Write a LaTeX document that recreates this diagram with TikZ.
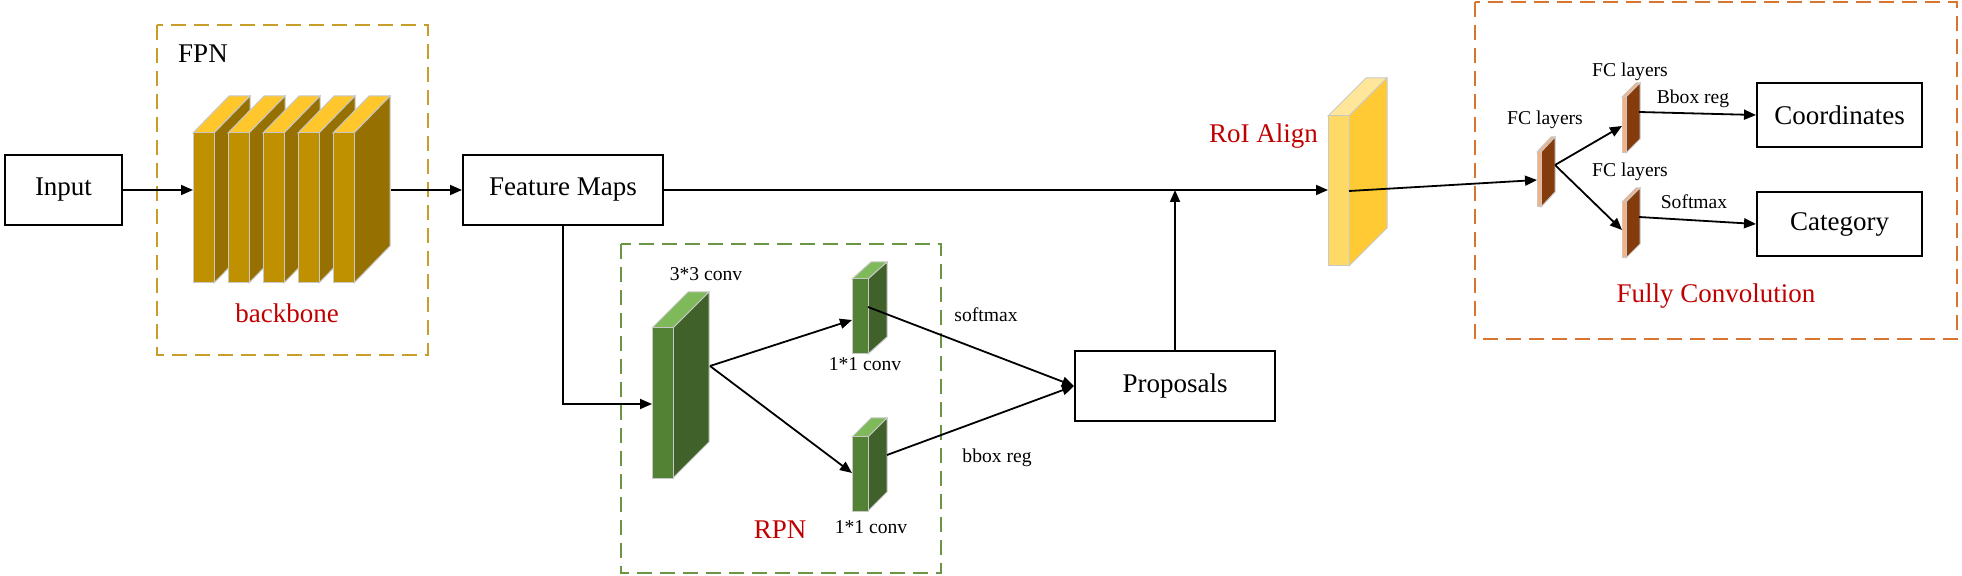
\documentclass[tikz,border=0pt]{standalone}
\usepackage{fontspec}
\setmainfont{Liberation Serif}
\usetikzlibrary{arrows.meta}
\definecolor{fpncol}{RGB}{201,158,40}
\definecolor{rpncol}{RGB}{106,150,70}
\definecolor{fccol}{RGB}{214,118,48}
\definecolor{redtxt}{RGB}{192,0,0}
\definecolor{goldF}{RGB}{191,144,0}
\definecolor{goldS}{RGB}{150,112,0}
\definecolor{goldT}{RGB}{255,199,44}
\definecolor{grnF}{RGB}{84,130,53}
\definecolor{grnS}{RGB}{64,98,42}
\definecolor{grnT}{RGB}{126,185,90}
\definecolor{roiF}{RGB}{255,217,102}
\definecolor{roiS}{RGB}{255,202,51}
\definecolor{roiT}{RGB}{255,230,153}
\definecolor{fcF}{RGB}{244,177,131}
\definecolor{fcS}{RGB}{132,60,12}
\definecolor{fcT}{RGB}{244,177,131}
\definecolor{edgegray}{RGB}{200,200,200}
\newcommand{\slabdraw}[9]{%
  \filldraw[slabedge,fill=#9] (#1,#2) -- ++(#5,-#6) -- ++(#3,0) -- ++(-#5,#6) -- cycle;
  \filldraw[slabedge,fill=#8] (#1+#3,#2) -- ++(#5,-#6) -- ++(0,#4) -- ++(-#5,#6) -- cycle;
  \filldraw[slabedge,fill=#7] (#1,#2) rectangle ++(#3,#4);}
\tikzset{
  box/.style={draw, line width=1pt, fill=white, inner sep=0pt, font=\rmfamily\fontsize{13.5}{16}\selectfont},
  arr/.style={line width=0.9pt, -{Triangle[length=6pt,width=5pt]}},
  slabedge/.style={draw=edgegray, line width=0.5pt},
  grp/.style={line width=1pt, dash pattern=on 7.5pt off 4pt},
  bigl/.style={font=\rmfamily\fontsize{13.5}{16}\selectfont, inner sep=0pt, anchor=base},
  smalll/.style={font=\rmfamily\fontsize{9.8}{12}\selectfont, inner sep=0pt, anchor=base},
}
\begin{document}
\begin{tikzpicture}[x=0.5pt,y=-0.5pt]
\useasboundingbox (0,0) rectangle (1962,576);
% groups
\draw[grp, draw=fpncol] (157,25) rectangle (428,355);
\draw[grp, draw=rpncol] (621,244) rectangle (941,573);
\draw[grp, draw=fccol] (1475,2) rectangle (1957,339);
% boxes
\node[box, minimum width=58.5pt, minimum height=35pt] (input) at (63.5,190) {Input};
\node[box, minimum width=100pt, minimum height=35pt] (fm) at (563,190) {Feature Maps};
\node[box, minimum width=100pt, minimum height=35pt] (prop) at (1175,386) {Proposals};
\node[box, minimum width=82.5pt, minimum height=32pt] (coord) at (1839.5,115) {Coordinates};
\node[box, minimum width=82.5pt, minimum height=32pt] (cat) at (1839.5,224) {Category};
% slabs
\slabdraw{193}{133}{21}{150}{36}{37}{goldF}{goldS}{goldT}
\slabdraw{228}{133}{21}{150}{36}{37}{goldF}{goldS}{goldT}
\slabdraw{263}{133}{21}{150}{36}{37}{goldF}{goldS}{goldT}
\slabdraw{298}{133}{21}{150}{36}{37}{goldF}{goldS}{goldT}
\slabdraw{333}{133}{21}{150}{36}{37}{goldF}{goldS}{goldT}
\slabdraw{652}{328}{21}{150}{36}{36}{grnF}{grnS}{grnT}
\slabdraw{852}{279}{16}{75}{19}{17}{grnF}{grnS}{grnT}
\slabdraw{852}{437}{16}{74}{19}{19}{grnF}{grnS}{grnT}
\slabdraw{1328}{116}{21}{150}{38}{38}{roiF}{roiS}{roiT}
\slabdraw{1537}{152}{4}{55}{14}{15}{fcF}{fcS}{fcT}
\slabdraw{1622}{97}{4}{56}{14}{14}{fcF}{fcS}{fcT}
\slabdraw{1622}{202}{4}{56}{14}{14}{fcF}{fcS}{fcT}
% connection points
\coordinate (bbin) at (193,190);
\coordinate (bbout) at (391,190);
\coordinate (c3in) at (652,404);
\coordinate (c3out) at (710,366);
\coordinate (c1ain) at (852,320);
\coordinate (c1aout) at (868,307);
\coordinate (c1bin) at (852,473);
\coordinate (c1bout) at (887,455);
\coordinate (roiin) at (1328,190);
\coordinate (roiout) at (1349,191);
\coordinate (fc1in) at (1537,180);
\coordinate (fc1out) at (1555,165);
\coordinate (fc2in) at (1622,126);
\coordinate (fc2out) at (1639,112);
\coordinate (fc3in) at (1622,230);
\coordinate (fc3out) at (1639,217);
% connectors
\draw[arr] (input.east) -- (bbin);
\draw[arr] (bbout) -- (fm.west);
\draw[arr] (fm.south) |- (c3in);
\draw[arr] (fm.east) -- (roiin);
\draw[arr] (prop.north) -- (prop.north |- roiin);
\draw[arr] (c3out) -- (c1ain);
\draw[arr] (c3out) -- (c1bin);
\draw[arr] (c1aout) -- (prop.west);
\draw[arr] (c1bout) -- (prop.west);
\draw[arr] (roiout) -- (fc1in);
\draw[arr] (fc1out) -- (fc2in);
\draw[arr] (fc1out) -- (fc3in);
\draw[arr] (fc2out) -- (coord.west);
\draw[arr] (fc3out) -- (cat.west);
% labels
\node[bigl] (lfpn) at (203,63) {FPN};
\node[bigl, text=redtxt] (lbb) at (287,323) {backbone};
\node[bigl, text=redtxt] (lrpn) at (780,538) {RPN};
\node[bigl, text=redtxt] (lroi) at (1263.5,143) {RoI Align};
\node[bigl, text=redtxt] (lfull) at (1716,303) {Fully Convolution};
\node[smalll] (l33) at (706,281) {3*3 conv};
\node[smalll] (l11a) at (865,371) {1*1 conv};
\node[smalll] (l11b) at (871,533) {1*1 conv};
\node[smalll] (lsoft) at (986,322) {softmax};
\node[smalll] (lbbox) at (997,462) {bbox reg};
\node[smalll] (lfc1) at (1545,125) {FC layers};
\node[smalll] (lfc2) at (1630,77) {FC layers};
\node[smalll] (lfc3) at (1630,177) {FC layers};
\node[smalll] (lBbox) at (1693,104) {Bbox reg};
\node[smalll] (lSoft) at (1694,209) {Softmax};
\end{tikzpicture}
\end{document}
